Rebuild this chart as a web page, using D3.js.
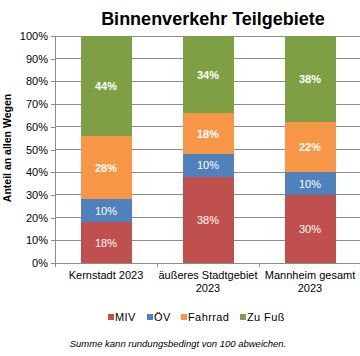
<!DOCTYPE html>
<html><head><meta charset="utf-8">
<script src="https://cdn.jsdelivr.net/npm/d3@7"></script>
<style>body{margin:0;background:#fff}svg{display:block}</style>
</head><body>
<script>
const categories = [["Kernstadt 2023"], ["äußeres Stadtgebiet", "2023"], ["Mannheim gesamt", "2023"]];
const seriesNames = ["MIV", "ÖV", "Fahrrad", "Zu Fuß"];
const miv = [18, 38, 30];
const oev = [10, 10, 10];
const fahrrad = [28, 18, 22];
const zuFuss = [44, 34, 38];
const yTicks = [0, 10, 20, 30, 40, 50, 60, 70, 80, 90, 100];
const colors = ["#C0504D", "#4F81BD", "#F79646", "#7F9F45"];
const boldLabel = [false, false, true, true];

const W = 360, H = 356;
const svg = d3.select("body").append("svg").attr("width", W).attr("height", H);
const font = "Arial, 'Liberation Sans', sans-serif";

const x = d3.scaleBand().domain(d3.range(categories.length)).range([55, 361]).paddingInner(0).paddingOuter(0);
const y = d3.scaleLinear().domain([0, 100]).range([263, 36]);

// gridlines
svg.append("g").selectAll("line").data(yTicks.filter(d => d > 0)).join("line")
  .attr("x1", 55).attr("x2", 360).attr("y1", d => y(d)).attr("y2", d => y(d))
  .attr("stroke", "#8c8c8c").attr("stroke-width", 1).attr("shape-rendering", "crispEdges");

const table = categories.map((c, i) => ({i, MIV: miv[i], "ÖV": oev[i], Fahrrad: fahrrad[i], "Zu Fuß": zuFuss[i]}));
const stack = d3.stack().keys(seriesNames)(table);
const bw = x.bandwidth() / 2;

stack.forEach((layer, li) => {
  const g = svg.append("g");
  g.selectAll("rect").data(layer).join("rect")
    .attr("x", d => x(d.data.i) + x.bandwidth() / 4)
    .attr("width", bw)
    .attr("y", d => y(Math.min(d[1], 100)))
    .attr("height", d => y(d[0]) - y(Math.min(d[1], 100)))
    .attr("fill", colors[li]).attr("shape-rendering", "crispEdges");
  g.selectAll("text").data(layer).join("text")
    .attr("x", d => x(d.data.i) + x.bandwidth() / 2)
    .attr("y", d => (y(d[0]) + y(Math.min(d[1], 100))) / 2 + 4)
    .attr("text-anchor", "middle").attr("fill", "#fff")
    .attr("font-family", font).attr("font-size", 11)
    .attr("font-weight", boldLabel[li] ? "bold" : "normal")
    .text(d => (d[1] - d[0]) + "%");
});

// y axis
const yAxis = d3.axisLeft(y).tickValues(yTicks).tickFormat(d => d + "%").tickSize(4).tickPadding(3);
const ya = svg.append("g").attr("transform", "translate(55,0)").call(yAxis);
ya.selectAll("path,line").attr("stroke", "#8c8c8c").attr("shape-rendering", "crispEdges");
ya.selectAll("text").attr("font-family", font).attr("font-size", 11).attr("fill", "#000");

// x axis
const xa = svg.append("g").attr("transform", "translate(0,263)");
xa.append("line").attr("x1", 55).attr("x2", 360).attr("y1", 0).attr("y2", 0)
  .attr("stroke", "#8c8c8c").attr("shape-rendering", "crispEdges");
xa.selectAll("line.tick").data(d3.range(categories.length + 1)).join("line").attr("class", "tick")
  .attr("x1", d => d < categories.length ? x(d) : 360).attr("x2", d => d < categories.length ? x(d) : 360)
  .attr("y1", 0).attr("y2", 4).attr("stroke", "#8c8c8c").attr("shape-rendering", "crispEdges");
categories.forEach((lines, i) => {
  const t = xa.append("text").attr("text-anchor", "middle")
    .attr("font-family", font).attr("font-size", 11).attr("fill", "#000");
  lines.forEach((ln, k) => {
    t.append("tspan").attr("x", x(i) + x.bandwidth() / 2).attr("y", 16 + k * 13).text(ln);
  });
});

// title
svg.append("text").attr("x", 213).attr("y", 25).attr("text-anchor", "middle")
  .attr("font-family", font).attr("font-size", 18).attr("font-weight", "bold").text("Binnenverkehr Teilgebiete");

// y title
svg.append("text").attr("transform", "translate(11,148) rotate(-90)").attr("text-anchor", "middle")
  .attr("font-family", font).attr("font-size", 10.5).attr("font-weight", "bold").text("Anteil an allen Wegen");

// legend
const legendX = [108, 147, 181, 240];
const lg = svg.append("g");
seriesNames.forEach((s, i) => {
  lg.append("rect").attr("x", legendX[i]).attr("y", 314).attr("width", 6).attr("height", 6).attr("fill", colors[i]);
  lg.append("text").attr("x", legendX[i] + 7).attr("y", 321).attr("font-family", font).attr("font-size", 11)
    .attr("letter-spacing", 0.4).text(s);
});

// footnote
svg.append("text").attr("x", 178).attr("y", 347).attr("text-anchor", "middle")
  .attr("font-family", font).attr("font-size", 9.5).attr("font-style", "italic").text("Summe kann rundungsbedingt von 100 abweichen.");
</script>
</body></html>
